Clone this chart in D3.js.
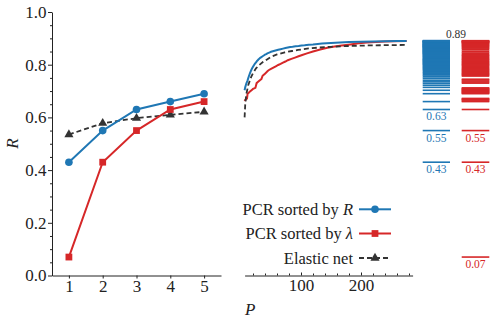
<!DOCTYPE html>
<html><head><meta charset="utf-8">
<script src="https://cdn.jsdelivr.net/npm/d3@7"></script>
<style>
html,body{margin:0;padding:0;background:#fff;}
svg text{font-family:"Liberation Serif","Times New Roman","DejaVu Serif",serif;}
</style></head>
<body><svg id="c" width="499" height="324"></svg>
<script>
// ---- data ----
const pBlue = [1,2,3,4,5,6,7,8,9,10,11,12,13,14,15,16,17,18,19,20,21,22,23,24,25,26,27,28,29,30,32,34,36,38,40,42,44,46,48,50,53,56,59,62,66,70,74,78,82,86,91,96,101,106,113,120,128,135,150,165,180,200,220,240,260,276];
const rBlue = [0.43,0.55,0.63,0.66,0.69,0.703,0.714,0.722,0.729,0.735,0.741,0.748,0.755,0.762,0.768,0.774,0.779,0.784,0.788,0.792,0.796,0.800,0.803,0.806,0.809,0.812,0.815,0.817,0.820,0.822,0.826,0.829,0.832,0.835,0.838,0.840,0.843,0.845,0.847,0.849,0.851,0.853,0.855,0.857,0.859,0.861,0.863,0.865,0.867,0.868,0.870,0.871,0.873,0.874,0.876,0.877,0.879,0.880,0.882,0.884,0.886,0.887,0.888,0.889,0.890,0.890];
const pRed = [1,2,3,4,5,6,7,8,9,10,11,12,13,14,15,16,17,18,19,20,22,24,26,28,30,32,34,36,38,40,42,44,46,50,54,58,62,66,70,74,78,84,90,96,102,110,120,132,144,156,168,182,196,210,225,240,255,276];
const rRed = [0.07,0.43,0.55,0.63,0.66,0.662,0.666,0.668,0.670,0.672,0.690,0.692,0.694,0.696,0.698,0.700,0.702,0.704,0.706,0.708,0.710,0.712,0.730,0.734,0.738,0.742,0.745,0.758,0.762,0.766,0.770,0.775,0.779,0.784,0.789,0.794,0.799,0.803,0.808,0.812,0.817,0.822,0.827,0.832,0.837,0.843,0.850,0.858,0.864,0.869,0.873,0.877,0.881,0.884,0.886,0.888,0.889,0.890];
const pNet = [1,2,3,4,5,6,7,8,9,10,12,14,17,20,25,30,37,44,50,60,73,85,95,110,130,150,180,210,240,276];
const rNet = [0.535,0.578,0.597,0.61,0.621,0.60,0.647,0.67,0.69,0.70,0.722,0.735,0.754,0.768,0.786,0.798,0.811,0.821,0.830,0.839,0.847,0.852,0.856,0.861,0.865,0.868,0.871,0.873,0.874,0.875];
const leftTicksX = [1,2,3,4,5];
const leftTicksY = [0,0.2,0.4,0.6,0.8,1.0];
const rightTicksX = [100,200];
const blueLabels = [0.63,0.55,0.43];
const redLabels = [0.55,0.43,0.07];
const topLabel = 0.89;
const legendNames = ["PCR sorted by ", "PCR sorted by ", "Elastic net"];
const legendItalic = ["R", "λ", ""];

const BLUE = "#1f77b4", RED = "#d62728", DARK = "#333333";
const svg = d3.select("#c");
const FS = 17;
const SERIF = "Liberation Serif, Times New Roman, serif";

// ---- scales ----
const y = d3.scaleLinear().domain([0,1]).range([275.5,12]);
const xL = d3.scaleLinear().domain([0.5,5.5]).range([52,221]);
const xR = d3.scaleLinear().domain([6,286]).range([244.6,412.6]);

function styleAxis(g){
  g.attr("font-family",SERIF);
  g.selectAll("path,line").attr("stroke","#222").attr("stroke-width",1);
  g.selectAll("text").attr("font-size",FS).attr("fill","#222").attr("font-family",SERIF);
}

// left y axis
const gy = svg.append("g").attr("transform","translate(52,0)")
  .call(d3.axisLeft(y).tickValues(leftTicksY).tickFormat(d3.format(".1f")).tickSize(4).tickSizeOuter(0).tickPadding(1.5));
styleAxis(gy);
const minorY = d3.range(0,1.0001,0.05).filter(v=>Math.abs(v*5-Math.round(v*5))>1e-6);
const gym = svg.append("g").attr("transform","translate(52,0)")
  .call(d3.axisLeft(y).tickValues(minorY).tickFormat("").tickSize(2).tickSizeOuter(0));
styleAxis(gym); gym.select(".domain").remove();

// left x axis
const gx = svg.append("g").attr("transform","translate(0,275.5)")
  .call(d3.axisBottom(xL).tickValues(leftTicksX).tickFormat(d3.format("d")).tickSize(3).tickSizeOuter(0).tickPadding(1));
styleAxis(gx);

// right x axis
const gxr = svg.append("g").attr("transform","translate(0,275.5)")
  .call(d3.axisBottom(xR).tickValues(rightTicksX).tickFormat(d3.format("d")).tickSize(-3).tickSizeOuter(0).tickPadding(3));
styleAxis(gxr);
const minorR = d3.range(20,281,20).filter(v=>v%100!==0);
const gxrm = svg.append("g").attr("transform","translate(0,275.5)")
  .call(d3.axisBottom(xR).tickValues(minorR).tickFormat("").tickSize(-2).tickSizeOuter(0));
styleAxis(gxrm); gxrm.select(".domain").remove();

// axis labels
svg.append("text").attr("transform","translate(18,143.5) rotate(-90)")
  .attr("text-anchor","middle").attr("font-size",FS).attr("font-style","italic").attr("fill","#222").text("R");
svg.append("text").attr("x",245).attr("y",315).attr("font-size",FS).attr("font-style","italic").attr("fill","#222").text("P");

// ---- left panel ----
function series(p, r){ return p.map((d,i)=>({p:d, r:r[i]})); }
const sBlue = series(pBlue,rBlue), sRed = series(pRed,rRed), sNet = series(pNet,rNet);
const leftOf = s => s.filter(d=>d.p<=5);
const lineL = d3.line().x(d=>xL(d.p)).y(d=>y(d.r));

svg.append("path").datum(leftOf(sNet)).attr("d",lineL).attr("fill","none").attr("stroke",DARK).attr("stroke-width",1.8).attr("stroke-dasharray","5,3");
svg.append("path").datum(leftOf(sBlue)).attr("d",lineL).attr("fill","none").attr("stroke",BLUE).attr("stroke-width",2);
svg.append("path").datum(leftOf(sRed)).attr("d",lineL).attr("fill","none").attr("stroke",RED).attr("stroke-width",2);

const tri = d3.symbol().type(d3.symbolTriangle).size(36);
const sq = d3.symbol().type(d3.symbolSquare).size(46);
svg.selectAll(".mn").data(leftOf(sNet)).join("path").attr("d",tri)
  .attr("transform",d=>`translate(${xL(d.p)},${y(d.r)})`).attr("fill",DARK);
svg.selectAll(".mb").data(leftOf(sBlue)).join("circle")
  .attr("cx",d=>xL(d.p)).attr("cy",d=>y(d.r)).attr("r",3.8).attr("fill",BLUE);
svg.selectAll(".mr").data(leftOf(sRed)).join("path").attr("d",sq)
  .attr("transform",d=>`translate(${xL(d.p)},${y(d.r)})`).attr("fill",RED);

// ---- right panel curves ----
const rightOf = s => s.filter(d=>d.p>=6);
const lineR = d3.line().x(d=>xR(d.p)).y(d=>y(d.r));
svg.append("path").datum(rightOf(sRed)).attr("d",lineR).attr("fill","none").attr("stroke",RED).attr("stroke-width",2);
svg.append("path").datum(rightOf(sBlue)).attr("d",lineR).attr("fill","none").attr("stroke",BLUE).attr("stroke-width",2);
svg.append("path").datum(rightOf(sNet)).attr("d",lineR).attr("fill","none").attr("stroke",DARK).attr("stroke-width",1.8).attr("stroke-dasharray","5,3");

// ---- columns ----
const colB = [422.7,450], colR = [461.7,489.3];
svg.selectAll(".cb").data(rBlue).join("line")
  .attr("x1",colB[0]).attr("x2",colB[1]).attr("y1",d=>y(d)).attr("y2",d=>y(d))
  .attr("stroke",BLUE).attr("stroke-width",d=>d>0.75?2.2:1.6);
svg.selectAll(".cr").data(rRed).join("line")
  .attr("x1",colR[0]).attr("x2",colR[1]).attr("y1",d=>y(d)).attr("y2",d=>y(d))
  .attr("stroke",RED).attr("stroke-width",d=>d>0.75?2.2:1.6);
svg.selectAll(".lb").data(blueLabels).join("text")
  .attr("x",(colB[0]+colB[1])/2).attr("y",d=>y(d)+11).attr("text-anchor","middle")
  .attr("font-size",11.5).attr("fill",BLUE).text(d=>d3.format(".2f")(d));
svg.selectAll(".lr").data(redLabels).join("text")
  .attr("x",(colR[0]+colR[1])/2).attr("y",d=>y(d)+11).attr("text-anchor","middle")
  .attr("font-size",11.5).attr("fill",RED).text(d=>d3.format(".2f")(d));
svg.append("text").attr("x",(colB[0]+colR[1])/2).attr("y",y(topLabel)-3).attr("text-anchor","middle")
  .attr("font-size",11.5).attr("fill",DARK).text(d3.format(".2f")(topLabel));

// ---- legend ----
const legY = [209.3,233.5,258];
const legCol = [BLUE,RED,DARK];
legendNames.forEach((n,i)=>{
  const t = svg.append("text").attr("x",353).attr("y",legY[i]+5.5).attr("text-anchor","end")
    .attr("font-size",16.5).attr("fill","#222");
  t.append("tspan").text(n);
  if (legendItalic[i]) t.append("tspan").attr("font-style","italic").text(legendItalic[i]);
  svg.append("line").attr("x1",359).attr("x2",391).attr("y1",legY[i]).attr("y2",legY[i])
    .attr("stroke",legCol[i]).attr("stroke-width",i===2?1.8:2).attr("stroke-dasharray",i===2?"5,3":null);
  if (i===0) svg.append("circle").attr("cx",375).attr("cy",legY[i]).attr("r",3.8).attr("fill",BLUE);
  if (i===1) svg.append("path").attr("d",sq).attr("transform",`translate(375,${legY[i]})`).attr("fill",RED);
  if (i===2) svg.append("path").attr("d",tri).attr("transform",`translate(375,${legY[i]})`).attr("fill",DARK);
});
</script></body></html>
